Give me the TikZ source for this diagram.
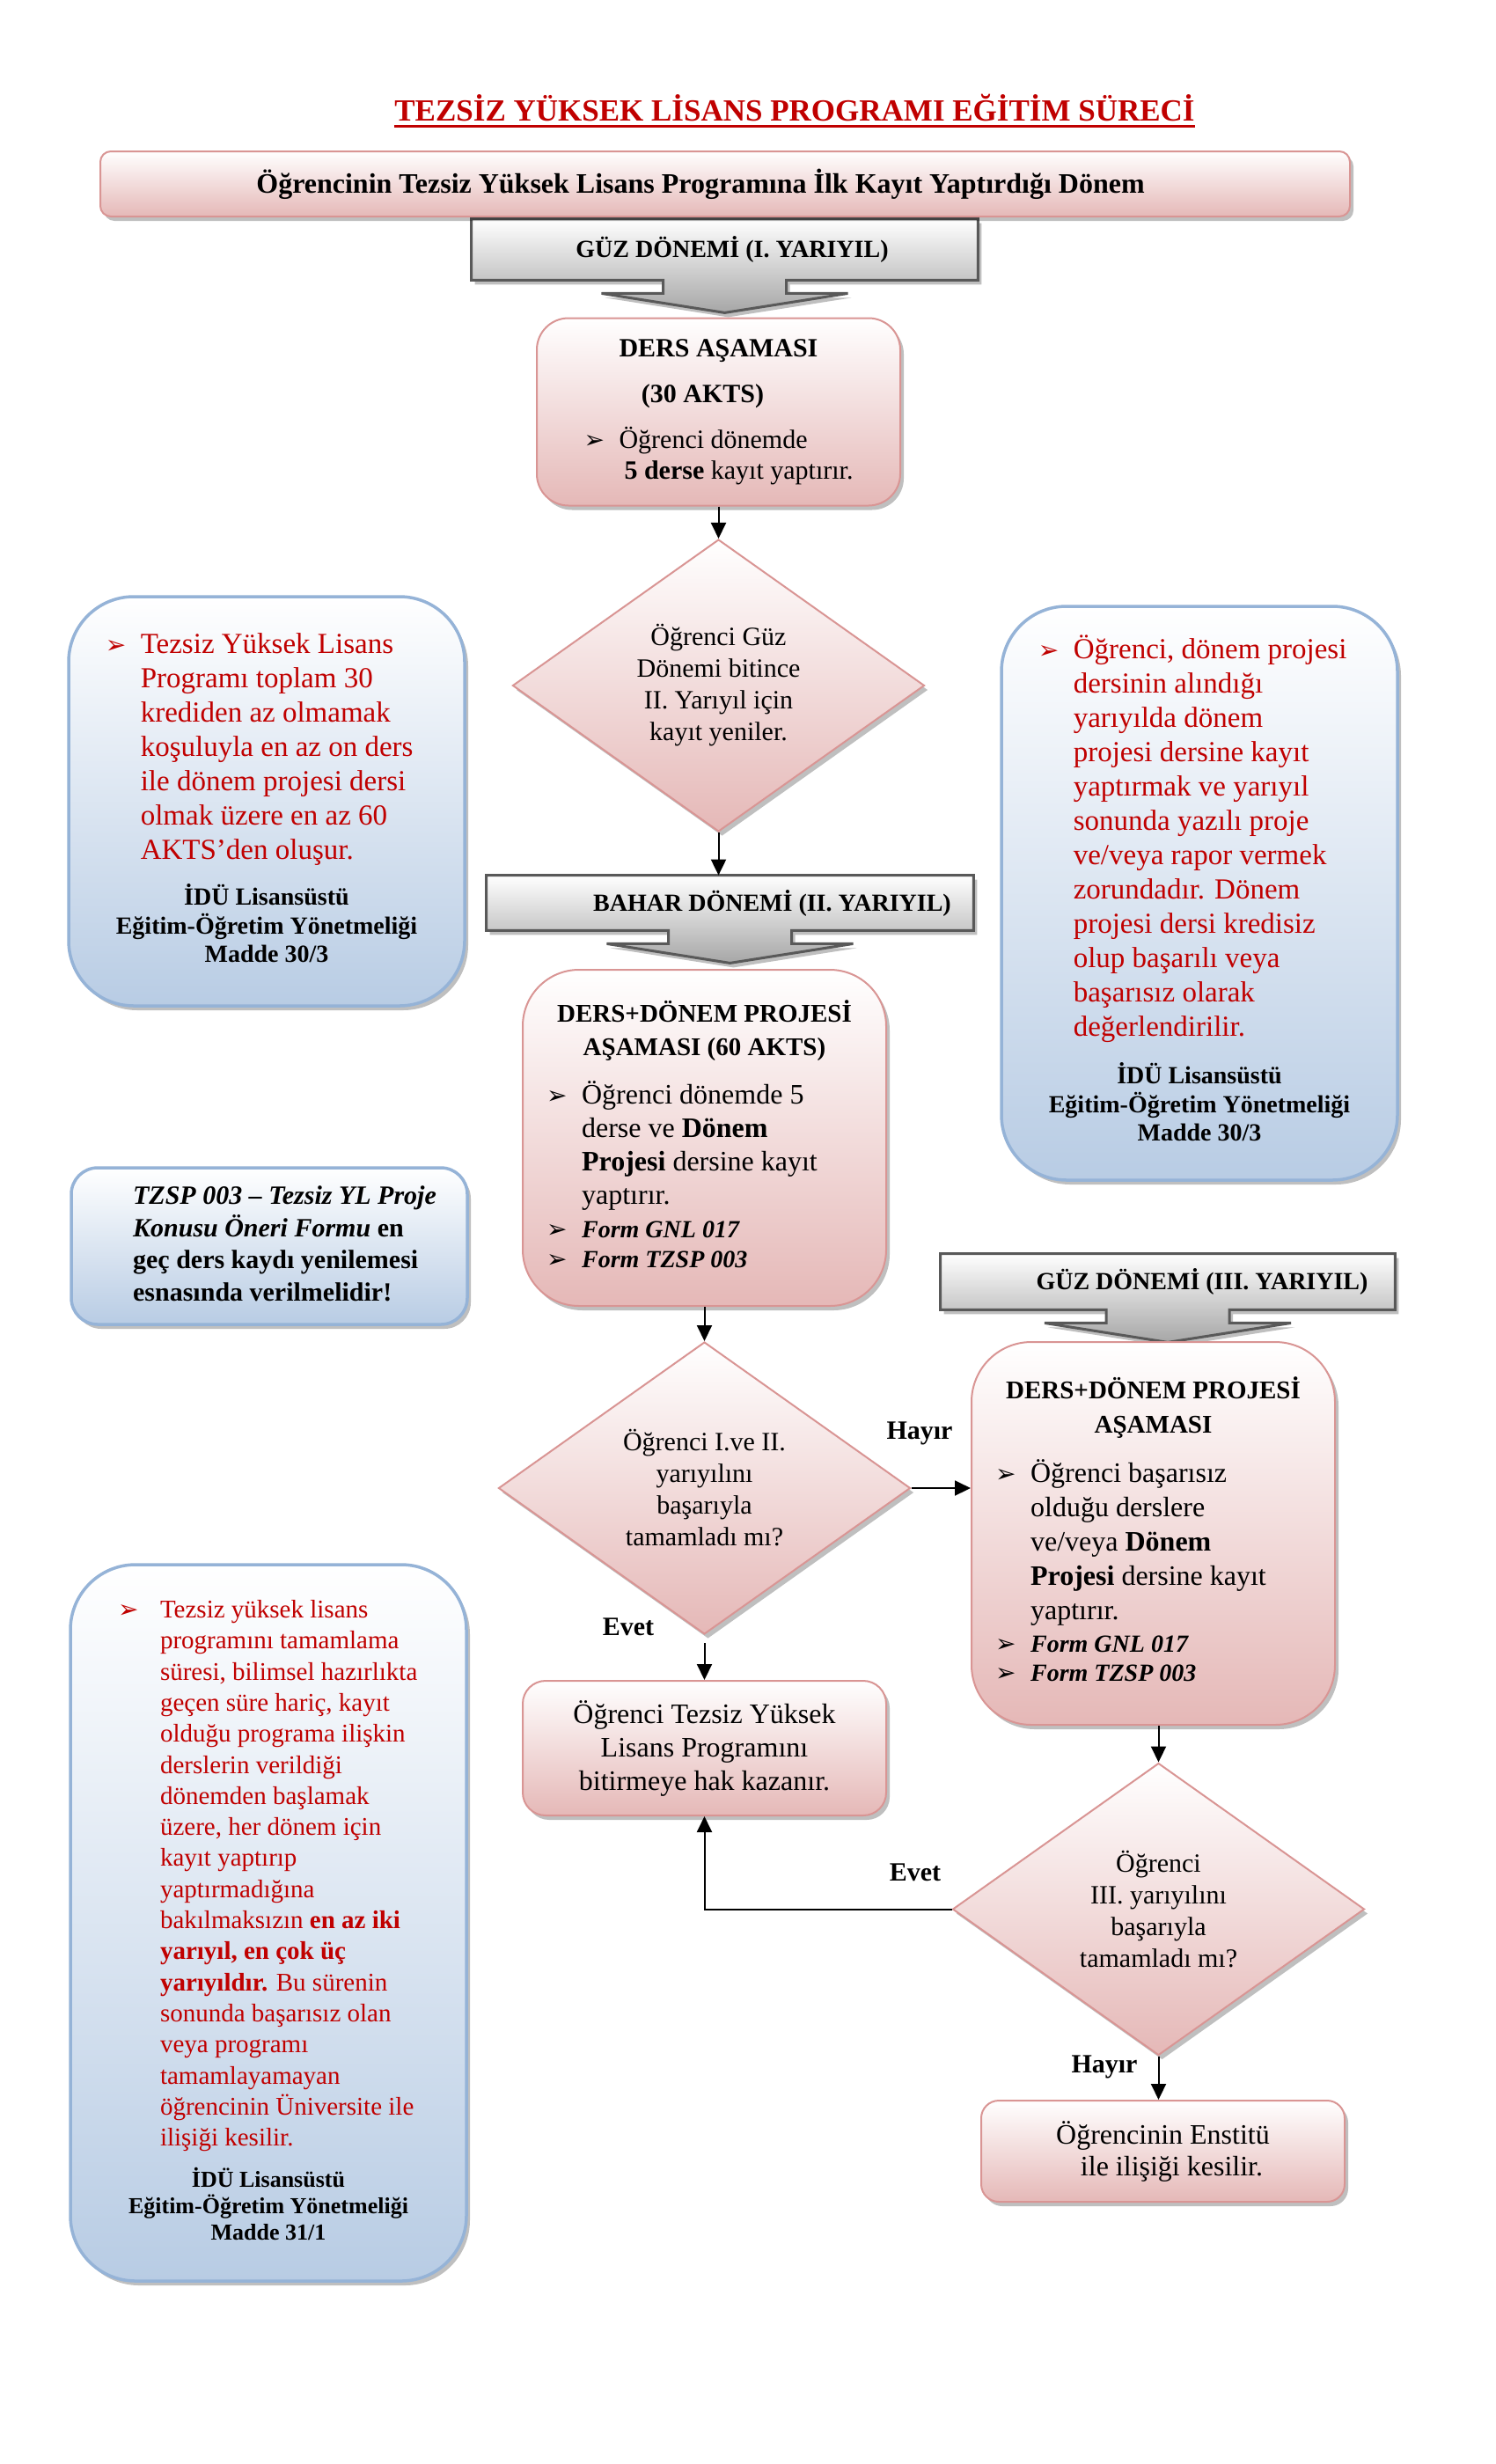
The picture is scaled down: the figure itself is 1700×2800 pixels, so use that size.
\documentclass[tikz,border=0pt]{standalone}
\usepackage{fontspec}
\setmainfont{Liberation Serif}
\newfontfamily\isaretfont{DejaVu Sans}
\usepackage{tikz}
\usetikzlibrary{arrows.meta,shapes.geometric,shadows,backgrounds,calc}

\definecolor{kirmizi}{HTML}{C00000}
\definecolor{pembecizgi}{HTML}{D99594}
\definecolor{pembedolgu}{HTML}{E5B8B7}
\definecolor{mavicizgi}{HTML}{95B3D7}
\definecolor{mavidolgu}{HTML}{B8CCE4}
\definecolor{gricizgi}{HTML}{595959}
\definecolor{gridolgu}{HTML}{A6A6A6}

\newcommand{\boyut}[2]{\fontsize{#1}{#2}\selectfont}
\newcommand{\okisareti}[1][20pt]{\makebox[#1][l]{\isaretfont\fontsize{14}{14}\selectfont ➢}}
\newcommand{\baslikyazi}[1]{{\bfseries\fontsize{14.5}{17}\selectfont #1}}
\newcommand{\formyazi}[1]{{\bfseries\itshape\fontsize{14}{17}\selectfont #1}}
\newcommand{\kaynak}[2][14]{{\color{black}\bfseries\fontsize{#1}{#1}\selectfont #2}}

% donem kutusu ve altindaki genis ok
\newcommand{\donemoku}[1]{%
   \begin{scope}[on background layer]
      \draw[donemcizgi] (#1.north west) -- (#1.north east) -- (#1.south east)
         -- ($(#1.south) + (70, 0)$) -- ($(#1.south) + (70, 15)$)
         -- ($(#1.south) + (140, 15)$) -- ($(#1.south) + (0, 37)$)
         -- ($(#1.south) + (-140, 15)$) -- ($(#1.south) + (-70, 15)$)
         -- ($(#1.south) + (-70, 0)$) -- (#1.south west) -- cycle;
   \end{scope}}

\begin{document}
\begin{tikzpicture}
      [x = 0.5pt, y = -0.5pt,
      golge/.style = {
         drop shadow = {shadow xshift = 2pt, shadow yshift = -2.5pt,
            fill = black, opacity = 0.25}
      },
      pembe/.style = {
         golge,
         draw = pembecizgi,
         line width = 1pt,
         top color = white,
         bottom color = pembedolgu,
         inner sep = 0pt
      },
      asama/.style = {
         pembe,
         minimum width = 206.5pt
      },
      karar/.style = {
         pembe,
         diamond,
         aspect = 1.41,
         minimum width = 234pt,
         minimum height = 166pt,
         align = center,
         font = {\boyut{15}{18}}
      },
      mavi/.style = {
         golge,
         draw = mavicizgi,
         line width = 1.75pt,
         top color = white,
         bottom color = mavidolgu,
         rounded corners = 37pt,
         minimum width = 225pt,
         inner sep = 0pt
      },
      donem/.style = {
         inner sep = 0pt,
         font = {\bfseries\boyut{14}{16}}
      },
      donemcizgi/.style = {
         golge,
         draw = gricizgi,
         line width = 1.5pt,
         top color = white,
         bottom color = gridolgu
      },
      akis/.style = {-{Triangle[length = 9pt, width = 8.5pt]}, line width = 1pt},
      etiket/.style = {font = {\bfseries\boyut{15}{18}}, inner sep = 0pt}]

      \useasboundingbox (0, 0) rectangle (1700, 2800);
      \begin{scope}[on background layer]
         \fill[white] (0, 0) rectangle (1700, 2800);
      \end{scope}

      % baslik
      \node[font = {\bfseries\boyut{17.5}{20}}, text = kirmizi, anchor = base,
         inner sep = 0pt] (baslik) at (903, 137)
         {TEZSİZ YÜKSEK LİSANS PROGRAMI EĞİTİM SÜRECİ};
      \draw[kirmizi, line width = 1.5pt] ($(baslik.base west) + (0, 6)$)
         -- ($(baslik.base east) + (0, 6)$);

      \node[pembe, rounded corners = 6pt, minimum width = 710pt, minimum height = 37pt,
         font = {\bfseries\boyut{16}{18}}] (ilkkayit) at (824, 209)
         {\hspace*{-28pt}Öğrencinin Tezsiz Yüksek Lisans Programına İlk Kayıt Yaptırdığı Dönem};

      % I. yariyil
      \node[donem, minimum width = 287.5pt, minimum height = 34.5pt] (guz1) at (823.5, 283.5)
         {\hspace*{8.5pt}GÜZ DÖNEMİ (I. YARIYIL)};
      \donemoku{guz1}

      \node[asama, minimum height = 106.5pt, rounded corners = 18pt] (ders1) at (816.5, 468)
         {\boyut{15}{17.5}%
         \begin{tabular}{@{}l@{}l@{}}
            \multicolumn{2}{c}{\bfseries DERS AŞAMASI}\\[8.5pt]
            \multicolumn{2}{c}{\hspace*{-18pt}\bfseries (30 AKTS)}\\[8.5pt]
            \okisareti & Öğrenci dönemde\\
             & \hspace{3pt}\textbf{5 derse} kayıt yaptırır.
         \end{tabular}};

      \node[karar] (karar1) at (816.5, 779)
         {Öğrenci Güz\\ Dönemi bitince\\ II. Yarıyıl için\\ kayıt yeniler.};

      % II. yariyil
      \node[donem, minimum width = 276.5pt, minimum height = 31pt] (bahar) at (829.5, 1026)
         {\hspace*{48pt}BAHAR DÖNEMİ (II. YARIYIL)};
      \donemoku{bahar}

      \node[asama, minimum height = 191pt, rounded corners = 32pt] (ders2) at (800.5, 1293)
         {\boyut{16}{19}%
         \begin{tabular}{@{}l@{}l@{}}
            \multicolumn{2}{c}{\baslikyazi{DERS+DÖNEM PROJESİ}}\\
            \multicolumn{2}{c}{\baslikyazi{AŞAMASI (60 AKTS)}}\\[8.5pt]
            \okisareti & Öğrenci dönemde 5\\
             & derse ve \textbf{Dönem}\\
             & \textbf{Projesi} dersine kayıt\\
             & yaptırır.\\
            \okisareti & \formyazi{Form GNL 017}\\[-2pt]
            \okisareti & \formyazi{Form TZSP 003}
         \end{tabular}};

      \node[karar] (karar2) at (800.5, 1691)
         {Öğrenci I.ve II.\\ yarıyılını\\ başarıyla\\ tamamladı mı?};

      \node[asama, minimum height = 76.5pt, rounded corners = 13pt, align = center,
         font = {\boyut{16}{19}}] (sonuc) at (800.5, 1986.5)
         {Öğrenci Tezsiz Yüksek\\ Lisans Programını\\ bitirmeye hak kazanır.};

      % III. yariyil
      \node[donem, minimum width = 258pt, minimum height = 31.5pt] (guz3) at (1327, 1456.5)
         {\hspace*{39pt}GÜZ DÖNEMİ (III. YARIYIL)};
      \donemoku{guz3}

      \node[asama, minimum height = 217.5pt, rounded corners = 34pt] (ders3) at (1310.5, 1742.5)
         {\boyut{16}{19.5}%
         \begin{tabular}{@{}l@{}l@{}}
            \multicolumn{2}{c}{\baslikyazi{DERS+DÖNEM PROJESİ}}\\
            \multicolumn{2}{c}{\baslikyazi{AŞAMASI}}\\[8.5pt]
            \okisareti & Öğrenci başarısız\\
             & olduğu derslere\\
             & ve/veya \textbf{Dönem}\\
             & \textbf{Projesi} dersine kayıt\\
             & yaptırır.\\[-1pt]
            \okisareti & \formyazi{Form GNL 017}\\[-3pt]
            \okisareti & \formyazi{Form TZSP 003}
         \end{tabular}};

      \node[karar] (karar3) at (1316.5, 2169.5)
         {Öğrenci\\ III. yarıyılını\\ başarıyla\\ tamamladı mı?};

      \node[asama, minimum height = 57.5pt, rounded corners = 10pt, align = center,
         font = {\boyut{16}{18}}] (bitis) at (1321.5, 2444.5)
         {Öğrencinin Enstitü\\ \hspace*{10pt}ile ilişiği kesilir.};

      % yonetmelik notlari
      \node[mavi, minimum height = 232.5pt] (not1) at (303, 910.5)
         {\color{kirmizi}\boyut{16.5}{19.5}%
         \begin{tabular}{@{}l@{}l@{}}
            \okisareti & Tezsiz Yüksek Lisans\\
             & Programı toplam 30\\
             & krediden az olmamak\\
             & koşuluyla en az on ders\\
             & ile dönem projesi dersi\\
             & olmak üzere en az 60\\
             & AKTS’den oluşur.\\[6.5pt]
            \multicolumn{2}{c}{\kaynak{İDÜ Lisansüstü}}\\[-3pt]
            \multicolumn{2}{c}{\kaynak{Eğitim-Öğretim Yönetmeliği}}\\[-3.5pt]
            \multicolumn{2}{c}{\kaynak{Madde 30/3}}
         \end{tabular}};

      \node[mavi, minimum height = 326pt] (not2) at (1363, 1015)
         {\color{kirmizi}\boyut{16.5}{19.5}%
         \begin{tabular}{@{}l@{}l@{}}
            \okisareti & Öğrenci, dönem projesi\\
             & dersinin alındığı\\
             & yarıyılda dönem\\
             & projesi dersine kayıt\\
             & yaptırmak ve yarıyıl\\
             & sonunda yazılı proje\\
             & ve/veya rapor vermek\\
             & zorundadır. Dönem\\
             & projesi dersi kredisiz\\
             & olup başarılı veya\\
             & başarısız olarak\\
             & değerlendirilir.\\[7.5pt]
            \multicolumn{2}{c}{\kaynak{İDÜ Lisansüstü}}\\[-3pt]
            \multicolumn{2}{c}{\kaynak{Eğitim-Öğretim Yönetmeliği}}\\[-3.5pt]
            \multicolumn{2}{c}{\kaynak{Madde 30/3}}
         \end{tabular}};

      \node[mavi, minimum height = 89pt, rounded corners = 15pt] (not3) at (306, 1416)
         {\bfseries\boyut{15}{18.35}%
         \begin{tabular}{@{\hspace{17.5pt}}l@{}}
            \textit{TZSP 003 – Tezsiz YL Proje}\\
            \textit{Konusu Öneri Formu} en\\
            geç ders kaydı yenilemesi\\
            esnasında verilmelidir!
         \end{tabular}};

      \node[mavi, minimum height = 407pt] (not4) at (305, 2185)
         {\color{kirmizi}\boyut{14.5}{17.65}%
         \begin{tabular}{@{}l@{}l@{}}
            \okisareti[24pt] & Tezsiz yüksek lisans\\
             & programını tamamlama\\
             & süresi, bilimsel hazırlıkta\\
             & geçen süre hariç, kayıt\\
             & olduğu programa ilişkin\\
             & derslerin verildiği\\
             & dönemden başlamak\\
             & üzere, her dönem için\\
             & kayıt yaptırıp\\
             & yaptırmadığına\\
             & bakılmaksızın \textbf{en az iki}\\
             & \textbf{yarıyıl, en çok üç}\\
             & \textbf{yarıyıldır.} Bu sürenin\\
             & sonunda başarısız olan\\
             & veya programı\\
             & tamamlayamayan\\
             & öğrencinin Üniversite ile\\
             & ilişiği kesilir.\\[5.85pt]
            \multicolumn{2}{c}{\kaynak[13]{İDÜ Lisansüstü}}\\[-2.65pt]
            \multicolumn{2}{c}{\kaynak[13]{Eğitim-Öğretim Yönetmeliği}}\\[-2.65pt]
            \multicolumn{2}{c}{\kaynak[13]{Madde 31/1}}
         \end{tabular}};

      % etiketler
      \node[etiket] (hayir1) at (1045, 1629) {Hayır};
      \node[etiket] (evet1) at (714, 1849) {Evet};
      \node[etiket] (evet2) at (1040, 2128) {Evet};
      \node[etiket] (hayir2) at (1255, 2349) {Hayır};

      % oklar
      \draw[akis] (ders1) -- (karar1);
      \draw[akis] (karar1.south) -- (karar1.south |- bahar.north);
      \draw[akis] (ders2) -- (karar2);
      \draw[akis] (karar2.east) -- (karar2.east -| ders3.west);
      \draw[akis, shorten <= 4.5pt] (karar2.south) -- (sonuc.north);
      \draw[akis] (ders3.south -| karar3.north) -- (karar3.north);
      \draw[akis] (karar3.west) -| (sonuc.south);
      \draw[akis] (karar3.south) -- (karar3.south |- bitis.north);

   \end{tikzpicture}
\end{document}
